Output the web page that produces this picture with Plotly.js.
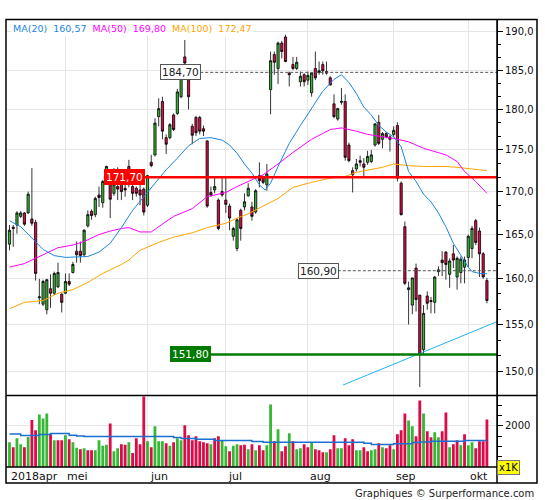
<!DOCTYPE html>
<html><head><meta charset="utf-8">
<script src="https://cdn.plot.ly/plotly-3.0.1.min.js"></script>
<style>html,body{margin:0;padding:0;background:#fff}#chart{width:545px;height:500px}</style>
</head><body><div id="chart"></div>
<script>
// ---- data (daily candles, index 0 = first April session) ----
const opens  = [163.9,165.85,166.1,167.1,167.5,167.5,166.8,166.4,157.9,157.2,156.6,158.9,158.4,159.1,158.3,158.4,159.7,160.7,163.1,163.1,162.7,166.0,167.7,167.3,169.6,168.7,171.0,171.2,169.8,170.6,171.2,170.4,173.0,170.6,170.4,170.2,170.3,168.4,173.5,174.4,179.1,181.0,176.5,176.5,179.3,179.5,181.6,186.7,183.7,177.9,179.0,179.0,177.6,176.1,169.9,170.2,169.0,170.0,169.0,168.3,164.8,163.4,167.8,168.2,169.5,168.2,167.6,171.9,171.7,170.8,182.5,187.0,185.2,188.5,189.3,184.6,185.7,185.2,183.5,184.4,183.7,182.1,185.2,184.7,185.7,184.8,184.0,180.7,178.8,180.9,181.0,175.6,172.5,172.7,173.7,173.3,173.5,173.6,175.6,178.4,176.3,177.0,176.6,176.9,178.0,171.0,165.9,158.8,157.1,161.2,158.2,152.3,158.1,157.6,157.4,160.8,162.1,163.0,160.5,162.8,160.2,160.7,161.3,162.4,163.4,166.6,165.4,162.8,159.8];
const highs  = [166.1,166.1,167.7,167.7,167.6,170.0,172.8,166.7,160.0,159.9,160.0,160.5,160.8,161.8,158.4,160.6,160.6,161.9,164.2,164.2,165.6,167.8,167.9,169.4,170.6,171.4,173.1,171.8,172.8,172.9,172.7,171.0,173.8,171.5,170.6,171.8,170.5,172.0,174.4,178.9,181.4,181.6,176.9,178.3,179.5,182.6,184.4,188.9,184.1,178.2,179.2,179.2,178.0,176.2,170.6,171.6,169.2,171.6,171.7,168.6,165.9,166.9,168.0,169.8,171.0,168.8,170.3,173.5,171.9,173.3,187.4,187.4,188.7,188.8,189.6,184.8,186.7,186.7,184.8,184.6,184.8,184.6,187.4,186.1,186.1,186.1,184.2,181.9,180.2,182.7,181.9,175.9,172.9,173.9,174.3,174.0,174.9,175.0,178.3,179.3,177.2,177.2,176.8,177.9,178.4,171.2,166.5,159.7,160.1,161.7,158.2,157.1,158.6,158.0,160.3,161.4,163.1,163.1,162.3,163.8,162.5,162.5,162.5,165.0,166.0,166.8,165.8,163.0,160.1];
const lows   = [163.2,163.6,165.1,166.9,166.0,167.4,166.0,159.8,157.2,157.0,156.1,156.8,158.2,159.0,156.3,158.3,159.2,160.6,161.8,161.8,162.5,165.8,166.7,167.0,168.2,168.1,170.8,166.9,169.5,169.0,169.0,169.4,170.5,169.0,169.4,168.4,167.2,168.2,172.9,174.2,177.9,176.3,174.5,176.3,177.3,179.3,181.4,185.7,180.0,175.7,176.7,176.9,176.7,168.1,169.4,169.8,165.5,169.4,167.5,165.5,164.3,163.1,164.3,167.8,169.4,166.6,167.4,170.5,170.9,170.1,179.4,184.4,183.2,186.5,186.0,182.9,185.0,185.0,182.9,182.9,183.1,181.6,183.7,184.4,184.4,184.4,183.0,178.9,178.6,180.6,173.7,173.5,169.9,172.4,173.0,171.8,173.2,173.4,175.4,175.6,175.2,176.4,174.8,176.6,171.2,167.2,159.3,155.0,156.1,156.4,148.4,151.8,156.6,156.2,156.2,160.3,160.3,159.9,159.0,161.2,158.8,159.5,159.5,161.3,162.3,163.8,160.2,160.0,157.3];
const closes = [165.5,165.7,167.5,167.5,166.2,169.7,166.3,160.6,158.0,159.7,159.9,158.4,160.6,160.7,157.4,159.7,159.4,161.6,162.7,162.6,165.5,167.3,167.2,169.2,169.3,171.2,173.0,169.1,170.9,170.3,170.0,170.2,171.5,169.8,169.8,169.6,167.6,171.9,173.1,178.3,180.1,177.3,175.7,178.1,177.5,182.2,184.0,185.9,181.6,176.8,177.1,177.3,177.3,168.3,169.6,170.6,165.7,169.6,168.5,166.9,165.7,166.7,165.7,168.8,170.4,167.1,170.1,171.3,171.1,172.1,186.2,186.0,188.5,187.4,186.1,184.4,185.2,186.0,184.2,183.5,184.3,184.6,184.0,184.9,184.9,184.6,183.1,179.1,180.1,181.0,174.1,173.7,172.0,173.3,173.5,172.9,174.2,174.4,178.2,175.8,177.0,176.6,176.3,177.4,171.6,167.3,159.5,159.0,160.1,157.7,151.8,156.2,157.3,157.5,160.2,161.0,161.8,161.6,162.0,162.1,162.3,162.2,162.1,164.8,165.7,164.1,162.8,160.2,157.6];
const volumes = [1200,960,1392,1104,960,1456,2272,1776,2544,2352,2592,1600,1296,1296,1296,1536,1344,1200,928,864,912,816,816,816,1296,1024,1072,2112,768,912,1104,1072,1200,672,1392,1104,3424,1248,960,1968,1248,1248,1152,1024,1200,1392,1296,2016,1536,1296,1488,1248,1200,1152,1104,1392,1488,1296,1008,768,1024,1104,1056,1072,864,1104,816,1056,816,1056,3024,1248,1824,768,1008,1632,1248,864,912,1104,960,1184,864,816,720,720,864,1536,912,912,1392,1056,1344,816,816,960,768,816,864,1152,960,912,1056,864,1584,1776,2592,2256,1968,1488,3216,2592,1728,1440,1680,1440,1728,2640,960,1104,1296,1056,1584,1056,1200,912,1248,1248,2304];
const volumeUp = [1,0,1,1,0,1,0,0,1,1, 1,0,1,0,0,1,0,1,1,0, 1,0,0,1,1,1,1,0,1,1, 0,0,1,0,0,0,0,1,0,1, 1,1,0,1,0,1,1,0,0,0, 0,0,0,0,1,0,0,1,1,0, 1,1,0,0,1,0,1,0,0,1, 1,0,1,0,0,1,0,1,1,0, 0,1,0,0,0,1,0,0,1,1, 0,0,0,1,1,0,0,1,1,0, 1,0,0,1,0,0,0,1,1,0, 0,1,0,0,1,1,0,0,1,0, 0,1,0,1,1,0,0,0,0];

// volume moving average (step line), read at its change points
const volMaIdx  = [0,3,8,11,16,18,20,44,46,50,55,65,68,95,97,103,108,110,113,122,128];
const volMaVals = [1600,1520,1568,1616,1536,1504,1472,1424,1376,1344,1280,1232,1200,1152,1088,1120,1184,1216,1248,1280,1280];

// moving averages read at sample points
const ma20Idx  = [0,3,6,9,12,15,21,24,27,30,33,36,39,42,45,48,51,54,57,59,61,63,65,67,68.5,70,72,75,78,81,84,87,89,91,93,95,97,99,101,103,105,107,109,111,113,115,117,119,121,123,124,126,128];
const ma20Vals = [166.6,165.9,164.6,163.3,162.6,162.4,162.5,163.0,164.0,165.8,167.8,169.4,171.0,172.6,174.0,175.5,176.4,176.5,176.2,175.6,174.6,173.3,172.2,170.8,170.2,171.0,173.0,175.8,178.0,180.2,182.3,183.8,184.4,183.4,182.0,180.3,179.3,178.0,177.2,176.6,175.4,172.4,171.2,169.7,168.8,167.5,165.9,164.0,162.6,161.3,160.8,160.6,160.57];
const ma50Idx  = [0,4,7,10,13,17,20,24,27,30,32,35,38,40,44,49,53,58,61,64,68,72,76,81,86,89,93,96,100,103,107,111,117,120,122,125,128];
const ma50Vals = [161.3,161.7,162.3,162.9,163.5,163.8,164.2,165.0,165.4,165.7,165.8,165.3,165.3,165.9,167.1,168.0,169.4,169.9,170.6,171.2,172.0,173.3,174.7,176.3,177.5,177.7,177.3,176.9,176.6,176.4,176.0,175.2,174.4,173.6,172.4,171.2,169.8];
const ma100Idx  = [0,4,9,13,17,21,25,30,32,35,40,44,49,53,58,61,64,68,72,76,81,86,90,93,97,100,103,107,111,117,120,124,128];
const ma100Vals = [156.7,157.4,157.6,158.4,158.8,159.6,160.6,161.6,162.1,163.2,164.1,164.7,165.2,165.8,166.3,166.9,167.4,168.3,169.2,170.5,171.1,171.6,171.8,172.3,172.6,172.9,173.3,173.1,173.0,173.0,172.9,172.7,172.5];
const maNames = ['MA(20)','MA(50)','MA(100)'];
const maLegendValues = [160.57,169.80,172.47];

// support trend line and horizontal levels
const trendIdx  = [89.4,130.7];
const trendVals = [148.6,155.3];
const levelValues   = [171.70,151.80,184.70,160.90];
const levelStartIdx = [25.3,43.0,40.4,77.3];

// axis text
const priceTicks = [150,155,160,165,170,175,180,185,190];
const monthLabels = ['2018apr','mei','jun','jul','aug','sep','okt'];
const monthStartIdx = [0,15,37,58,80,103,123];
const volTickLabelled = [2000];
const volTickMinor = [500,1000,1500,2500,3000];

// ---- chart ----
const idx = opens.map((_, i) => i);
const fmt = v => v.toFixed(1).replace('.', ',');
const fmt2 = v => v.toFixed(2).replace('.', ',');
const XMAX = 130.7, XMIN = -0.67;

const UP = '#35b835', DOWN = '#dc0a46';
const C20 = '#1a86e0', C50 = '#ff00ff', C100 = '#ffa500';

const minorTicks = [];
for (let k = 0; k < priceTicks.length - 1; k++) {
  const a = priceTicks[k], b = priceTicks[k+1];
  minorTicks.push(a + (b-a)/3, a + 2*(b-a)/3);
}

const traces = [
  {type:'scatter', mode:'lines', x:ma100Idx, y:ma100Vals, line:{color:C100, width:1}, hoverinfo:'skip', xaxis:'x', yaxis:'y'},
  {type:'scatter', mode:'lines', x:ma50Idx, y:ma50Vals, line:{color:C50, width:1}, hoverinfo:'skip', xaxis:'x', yaxis:'y'},
  {type:'scatter', mode:'lines', x:ma20Idx, y:ma20Vals, line:{color:C20, width:1}, hoverinfo:'skip', xaxis:'x', yaxis:'y'},
  {type:'candlestick', x:idx, open:opens, high:highs, low:lows, close:closes, xaxis:'x', yaxis:'y',
   increasing:{line:{color:'#000', width:0.8}, fillcolor:UP},
   decreasing:{line:{color:'#000', width:0.8}, fillcolor:DOWN},
   whiskerwidth:0, hoverinfo:'skip'},
  {type:'scatter', mode:'lines', x:trendIdx, y:trendVals, line:{color:'#1cb4f5', width:1}, hoverinfo:'skip', xaxis:'x', yaxis:'y'},
  {type:'bar', x:idx, y:volumes, marker:{color:volumeUp.map(u => u ? UP : DOWN), line:{width:0}}, xaxis:'x', yaxis:'y2', hoverinfo:'skip'},
  {type:'scatter', mode:'lines', x:volMaIdx, y:volMaVals, line:{color:'#1a6fd0', width:1.5, shape:'hv'}, xaxis:'x', yaxis:'y2', hoverinfo:'skip'}
];
const levelStyles = [
  {color:'#ff0000', width:2.5},
  {color:'#007a00', width:2.5},
  {color:'#555', width:1, dash:'3px,2px'},
  {color:'#555', width:1, dash:'3px,2px'}
];
levelValues.forEach((v, k) => {
  traces.push({type:'scatter', mode:'lines', x:[levelStartIdx[k], XMAX], y:[v, v], line:levelStyles[k], hoverinfo:'skip', xaxis:'x', yaxis:'y'});
});

const L = 7, R = 48, T = 20, B = 33, W = 545, H = 500;
const pw = W - L - R, ph = H - T - B;
const px = v => (v - L) / pw;
const py = v => (H - B - v) / ph;

const font = 'DejaVu Sans, Verdana, sans-serif';
const annotations = [];
// MA legend
annotations.push({
  xref:'paper', yref:'paper', x:px(11), y:py(28), xanchor:'left', yanchor:'middle', showarrow:false,
  bgcolor:'#fff', borderpad:1,
  text: maNames.map((n, k) => `<span style="color:${[C20,C50,C100][k]}">${n}&nbsp;&nbsp;${fmt2(maLegendValues[k])}</span>`).join('&nbsp;&nbsp;'),
  font:{family:font, size:9.5}
});
// level labels
const levelLabelStyle = [
  {bg:'#ff0000', fg:'#fff', border:'#ff0000'},
  {bg:'#007a00', fg:'#fff', border:'#007a00'},
  {bg:'#fff', fg:'#222', border:'#555'},
  {bg:'#fff', fg:'#222', border:'#555'}
];
levelValues.forEach((v, k) => {
  const s = levelLabelStyle[k];
  annotations.push({xref:'x', yref:'y', x:levelStartIdx[k], y:Math.log10(v), xanchor:'left', yanchor:'middle', showarrow:false,
    text:fmt(v).replace(/,(\d)$/, ',$10'), bgcolor:s.bg, bordercolor:s.border, borderwidth:1, borderpad:1,
    font:{family:font, size:10.5, color:s.fg}});
});
// month labels
monthLabels.forEach((m, k) => {
  annotations.push({xref:'x', yref:'paper', x:monthStartIdx[k], y:py(476), xanchor:'left', yanchor:'middle', xshift:k === 0 ? -1 : 0,
    showarrow:false, text:m, font:{family:font, size:11, color:'#111'}});
});
// x1K
annotations.push({xref:'paper', yref:'paper', x:px(497), y:py(467), xanchor:'left', yanchor:'middle', showarrow:false,
  text:'x1K', bgcolor:'#ffff00', bordercolor:'#777', borderwidth:1, borderpad:1, font:{family:font, size:10, color:'#000'}});
// footer
annotations.push({xref:'paper', yref:'paper', x:px(536), y:py(493), xanchor:'right', yanchor:'middle', showarrow:false,
  text:'Graphiques © Surperformance.com', font:{family:font, size:10, color:'#222'}});

const shapes = [
  {type:'rect', xref:'paper', yref:'paper', x0:px(6), x1:px(537), y0:py(483), y1:py(19.5), line:{color:'#000', width:1.5}},
  {type:'line', xref:'paper', yref:'paper', x0:px(6), x1:px(537), y0:py(395.5), y1:py(395.5), line:{color:'#000', width:1.5}},
  {type:'line', xref:'paper', yref:'paper', x0:px(6), x1:1, y0:0, y1:0, line:{color:'#000', width:1.5}},
  {type:'line', xref:'paper', yref:'paper', x0:1, x1:1, y0:py(483), y1:py(19.5), line:{color:'#000', width:1.5}}
];

const layout = {
  width:W, height:H, margin:{l:L, r:R, t:T, b:B, pad:0},
  paper_bgcolor:'#fff', plot_bgcolor:'#fff', showlegend:false,
  boxgap:0.15, bargap:0.25,
  font:{family:font, size:10, color:'#111'},
  xaxis:{domain:[0,1], range:[XMIN, XMAX], anchor:'y2', tickmode:'array', tickvals:monthStartIdx.slice(1),
    showticklabels:false, ticks:'', showgrid:true, gridcolor:'#e6e6e6', gridwidth:1, zeroline:false, showline:false,
    rangeslider:{visible:false}, fixedrange:true},
  yaxis:{type:'log', domain:[0.16,1], range:[Math.log10(147.53), Math.log10(191.55)], side:'right', anchor:'x',
    tickmode:'array', tickvals:priceTicks, ticktext:priceTicks.map(fmt),
    ticks:'outside', ticklen:5, tickcolor:'#000', tickwidth:1,
    minor:{tickmode:'array', tickvals:minorTicks, ticks:'outside', ticklen:3, tickcolor:'#000', showgrid:false},
    showgrid:true, gridcolor:'#e6e6e6', gridwidth:1, showline:true, linecolor:'#000', linewidth:1, zeroline:false,
    tickfont:{family:font, size:10, color:'#111'}, fixedrange:true},
  yaxis2:{domain:[0,0.158], range:[0,3420], side:'right', anchor:'x',
    tickmode:'array', tickvals:volTickLabelled, ticktext:volTickLabelled.map(String),
    ticks:'outside', ticklen:5, tickcolor:'#000',
    minor:{tickmode:'array', tickvals:volTickMinor, ticks:'outside', ticklen:4, tickcolor:'#000', showgrid:false},
    showgrid:true, gridcolor:'#e6e6e6', showline:true, linecolor:'#000', zeroline:false,
    tickfont:{family:font, size:10, color:'#111'}, fixedrange:true},
  annotations, shapes
};

Plotly.newPlot('chart', traces, layout, {staticPlot:true, displayModeBar:false});
</script></body></html>
